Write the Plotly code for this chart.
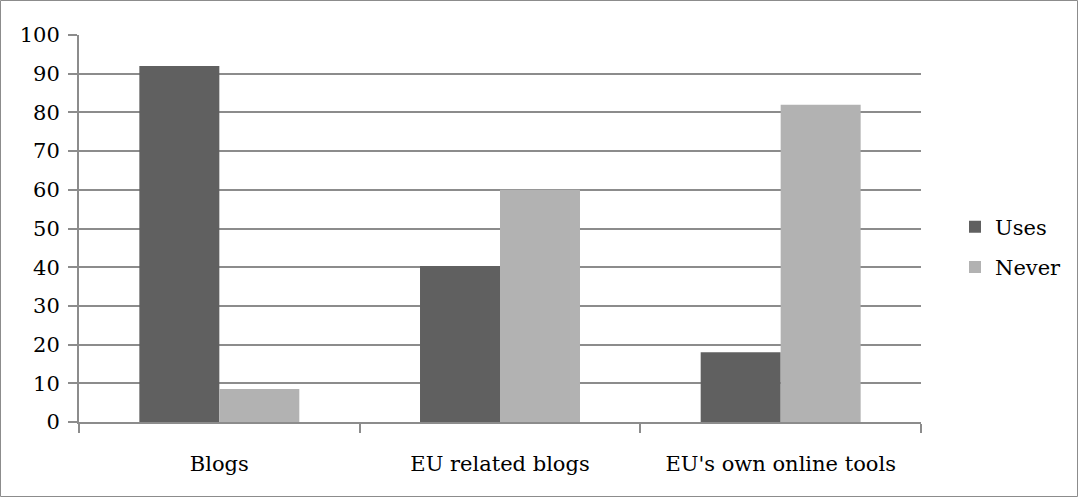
import plotly.graph_objects as go

categories = ["Blogs", "EU related blogs", "EU's own online tools"]
uses = [92, 40.3, 18]
never = [8.5, 60, 82]
y_ticks = [0, 10, 20, 30, 40, 50, 60, 70, 80, 90, 100]

W, H = 1078, 497
L, R, T, B = 79, 157, 35, 75
pw, ph = W - L - R, H - T - B

font = dict(family="DejaVu Serif, Liberation Serif, serif", size=21, color="#000000")
grid_col = "#8c8c8c"

fig = go.Figure()
fig.add_trace(go.Bar(name="Uses", x=categories, y=uses, legendgroup="a",
                     marker=dict(color="#606060", line=dict(width=0))))
fig.add_trace(go.Bar(name="Never", x=categories, y=never, legendgroup="b",
                     marker=dict(color="#b2b2b2", line=dict(width=0))))

# outer frame around the whole chart
fig.add_shape(type="rect", xref="paper", yref="paper",
              x0=(0.5 - L) / pw, x1=(W - 0.5 - L) / pw,
              y0=-(H - 0.5 - T - ph) / ph, y1=1 + (T - 0.5) / ph,
              line=dict(color="#8c8c8c", width=1), layer="below")

fig.update_layout(
    width=W, height=H,
    margin=dict(l=L, r=R, t=T, b=B, pad=0, autoexpand=False),
    paper_bgcolor="white", plot_bgcolor="white",
    font=font,
    barmode="group", bargap=0.43, bargroupgap=0,
    showlegend=True,
    legend=dict(x=(955 - L) / pw, y=1 - (247 - T) / ph, xanchor="left", yanchor="middle",
                font=font, itemsizing="constant", traceorder="grouped", tracegroupgap=10,
                bgcolor="rgba(0,0,0,0)"),
    xaxis=dict(showline=True, linecolor=grid_col, linewidth=2,
               ticks="outside", tickson="boundaries", ticklen=9, tickcolor=grid_col, tickwidth=2,
               showgrid=False, tickfont=font, ticklabelstandoff=22),
    yaxis=dict(range=[0, 100], tickvals=y_ticks, showline=True, linecolor=grid_col, linewidth=2,
               ticks="outside", ticklen=9, tickcolor=grid_col, tickwidth=2,
               showgrid=True, gridcolor=grid_col, gridwidth=2, zeroline=False,
               tickfont=font, ticklabelstandoff=4),
)

fig.write_html("out.html")
